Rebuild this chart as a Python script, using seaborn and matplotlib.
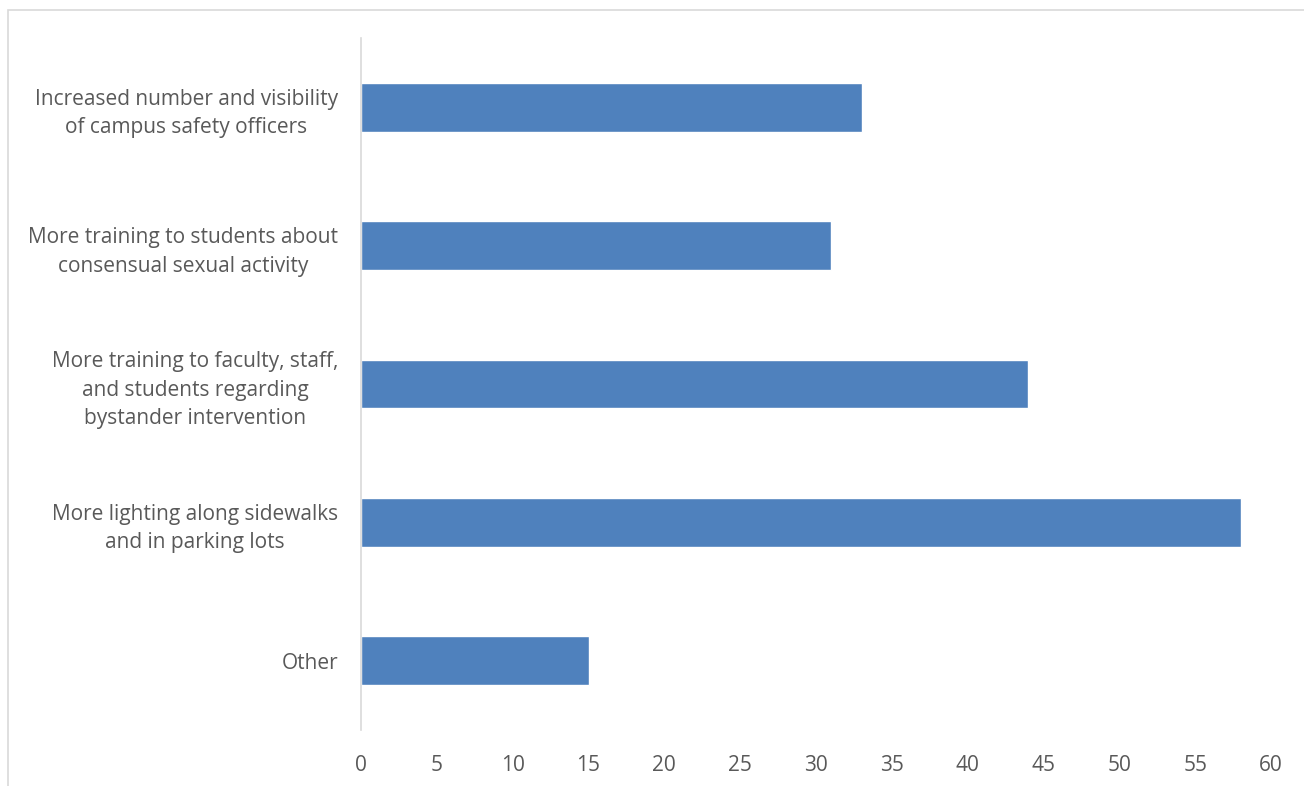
import matplotlib
matplotlib.use("Agg")
import matplotlib.pyplot as plt
import seaborn as sns
import pandas as pd
from matplotlib.patches import Rectangle

categories = [
    "Increased number and visibility\nof campus safety officers",
    "More training to students about\nconsensual sexual activity",
    "More training to faculty, staff,\nand students regarding\nbystander intervention",
    "More lighting along sidewalks\nand in parking lots",
    "Other",
]
values = [33, 31, 44, 58, 15]
x_ticks = [0, 5, 10, 15, 20, 25, 30, 35, 40, 45, 50, 55, 60]

sns.set_theme(style="white")
plt.rcParams["font.family"] = ["Open Sans", "DejaVu Sans"]

W, H = 1304, 786
fig = plt.figure(figsize=(W / 100, H / 100), dpi=100)
ax = fig.add_axes([361 / W, 1 - 730 / H, (1271 - 361) / W, (730 - 38) / H])

df = pd.DataFrame({"category": categories, "value": values})
sns.barplot(data=df, x="value", y="category", ax=ax, color="#4F81BD",
            saturation=1, width=0.354, orient="h")

ax.set_xlim(0, 60)
ax.set_ylim(len(categories) - 0.5, -0.5)
ax.set_xticks(x_ticks)
ax.set_xlabel("")
ax.set_ylabel("")

for side in ["top", "right", "bottom"]:
    ax.spines[side].set_visible(False)
ax.spines["left"].set_color("#d9d9d9")
ax.spines["left"].set_linewidth(1.2)

ax.tick_params(axis="both", length=0, colors="#595959", labelsize=15)
ax.tick_params(axis="x", pad=18)
ax.tick_params(axis="y", pad=16.5)
for lab in ax.get_yticklabels():
    lab.set_multialignment("center")
    lab.set_linespacing(1.47)

# chart-area frame
fig.patches.append(Rectangle((8 / W, -0.1), 1.2, 1 - 10 / H + 0.1,
                             transform=fig.transFigure, fill=False,
                             edgecolor="#d9d9d9", linewidth=1.2))

fig.savefig("out.png", dpi=100, facecolor="white")
